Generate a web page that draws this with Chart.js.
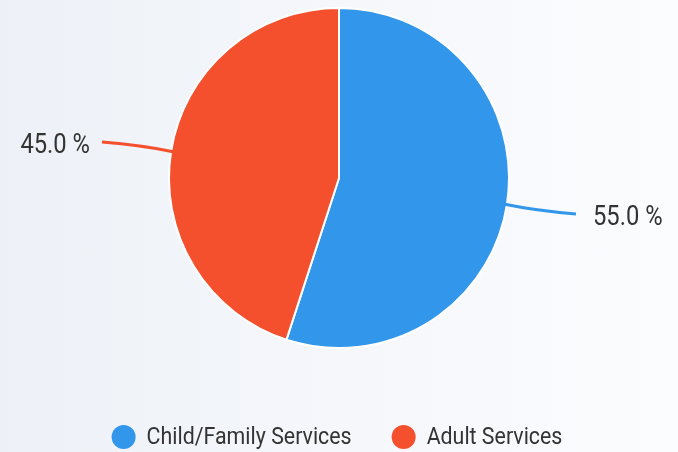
<!DOCTYPE html>
<html>
<head>
<meta charset="utf-8">
<script src="https://cdn.jsdelivr.net/npm/chart.js@4.4.0/dist/chart.umd.min.js"></script>
<style>
  html, body { margin: 0; padding: 0; }
  body {
    width: 678px; height: 452px; overflow: hidden;
    background: linear-gradient(to right, #edf1f7 0%, #f5f7fb 50%, #fbfcfe 100%);
  }
  canvas { display: block; }
</style>
</head>
<body>
<canvas id="pieChart" width="678" height="452"></canvas>
<script>
// Datos del gráfico
const categories = ["Child/Family Services", "Adult Services"];
const shares = [55.0, 45.0];
const sliceColors = ["#3297EA", "#F5502E"];

// Texto estrecho (fuente condensada simulada)
function narrowText(ctx, text, x, y, size, squeeze, align) {
  ctx.save();
  ctx.font = size + "px Roboto";
  ctx.textBaseline = "middle";
  ctx.textAlign = align;
  ctx.translate(x, y);
  ctx.scale(squeeze, 1);
  ctx.fillText(text, 0, 0);
  ctx.restore();
}

function narrowWidth(ctx, text, size, squeeze) {
  ctx.save();
  ctx.font = size + "px Roboto";
  const w = ctx.measureText(text).width * squeeze;
  ctx.restore();
  return w;
}

// Etiquetas con líneas guía y leyenda inferior
const outsideLabels = {
  id: "outsideLabels",
  afterDatasetsDraw(chart) {
    const ctx = chart.ctx;
    const meta = chart.getDatasetMeta(0);
    ctx.save();
    ctx.fillStyle = "#333333";
    meta.data.forEach((arc, i) => {
      const p = arc.getProps(["x", "y", "startAngle", "endAngle", "outerRadius"], true);
      const mid = (p.startAngle + p.endAngle) / 2;
      const cos = Math.cos(mid), sin = Math.sin(mid);
      const r = p.outerRadius;
      const x0 = p.x + cos * (r - 2), y0 = p.y + sin * (r - 2);
      const cx = p.x + cos * (r + 30), cy = p.y + sin * (r + 40);
      const right = cos >= 0;
      const ey = p.y + sin * (r + 60);
      const ex = p.x + (right ? 1 : -1) * (r + 67);
      ctx.strokeStyle = sliceColors[i];
      ctx.lineWidth = 3;
      ctx.beginPath();
      ctx.moveTo(x0, y0);
      ctx.quadraticCurveTo(cx, cy, ex, ey);
      ctx.stroke();
      narrowText(ctx, shares[i].toFixed(1) + " %", ex + (right ? 17 : -12), ey + 4, 27, 0.88, right ? "left" : "right");
    });

    // leyenda
    const size = 24, squeeze = 0.89, dot = 24, gapText = 11, gapItem = 40;
    const widths = chart.data.labels.map(l => narrowWidth(ctx, l, size, squeeze));
    let total = 0;
    widths.forEach((w, i) => { total += dot + gapText + w + (i ? gapItem : 0); });
    let x = chart.width / 2 - total / 2 - 2;
    const y = 437;
    chart.data.labels.forEach((label, i) => {
      ctx.fillStyle = sliceColors[i];
      ctx.beginPath();
      ctx.arc(x + dot / 2, y, dot / 2, 0, Math.PI * 2);
      ctx.fill();
      ctx.fillStyle = "#333333";
      narrowText(ctx, label, x + dot + gapText, y + 1, size, squeeze, "left");
      x += dot + gapText + widths[i] + gapItem;
    });
    ctx.restore();
  }
};

function createPieChart() {
  const ctx = document.getElementById("pieChart").getContext("2d");
  new Chart(ctx, {
    type: "pie",
    data: {
      labels: categories,
      datasets: [{
        data: shares,
        backgroundColor: sliceColors,
        borderColor: "#ffffff",
        borderWidth: 2
      }]
    },
    options: {
      responsive: false,
      animation: false,
      layout: { padding: { top: 7, bottom: 103 } },
      plugins: {
        tooltip: { enabled: false },
        legend: { display: false }
      }
    },
    plugins: [outsideLabels]
  });
}

document.addEventListener("DOMContentLoaded", createPieChart);
</script>
</body>
</html>
